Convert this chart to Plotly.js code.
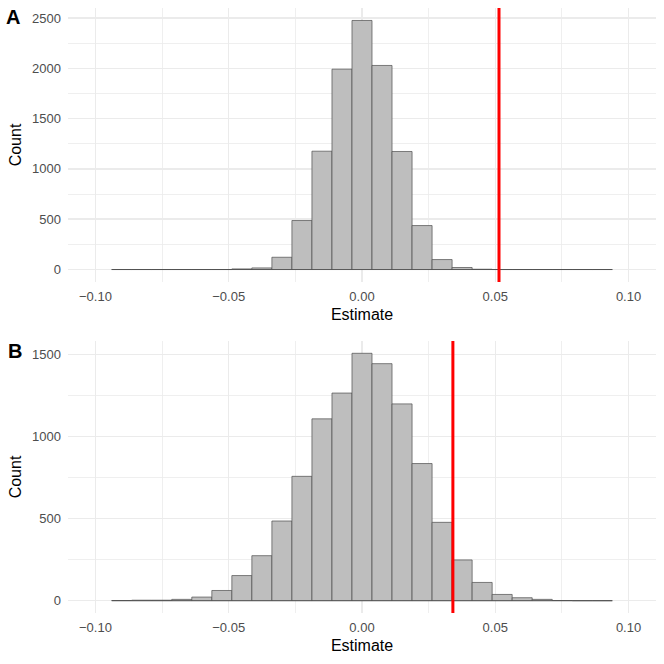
<!DOCTYPE html>
<html>
<head>
<meta charset="utf-8">
<script src="https://cdn.plot.ly/plotly-3.0.1.min.js"></script>
<style>html,body{margin:0;padding:0;background:#fff;}#plot{width:664px;height:664px;}</style>
</head>
<body>
<div id="plot"></div>
<script>
// Bin index (k) relative to the central bin, bin width in Estimate units
const binIndex = [-12,-11,-10,-9,-8,-7,-6,-5,-4,-3,-2,-1,0,1,2,3,4,5,6,7,8,9,10,11,12];
const binWidth = 0.007512;
// Panel A counts
const countsA = [0,0,0,0,0,0,6,16,122,487,1176,1991,2475,2028,1173,437,99,20,3,0,0,0,0,0,0];
// Panel B counts
const countsB = [1,3,3,8,22,62,153,274,485,757,1107,1264,1506,1443,1198,835,477,248,111,38,18,8,1,0,0];
// Observed estimates (red lines)
const observedA = 0.0514;
const observedB = 0.0341;
const xTickVals = [-0.10,-0.05,0.00,0.05,0.10];
const xTickText = ["\u22120.10","\u22120.05","0.00","0.05","0.10"];
const xMinorVals = [-0.075,-0.025,0.025,0.075];
const yTicksA = [0,500,1000,1500,2000,2500];
const yMinorA = [250,750,1250,1750,2250];
const yTicksB = [0,500,1000,1500];
const yMinorB = [250,750,1250];

const centers = binIndex.map(k => k*binWidth);
const firstEdge = centers[0] - binWidth/2;
const lastEdge = centers[centers.length-1] + binWidth/2;

const barStyle = {color:'#bebebe', line:{color:'#4d4d4d', width:0.7}};
const traces = [
  {type:'bar', x:centers, y:countsA, width:binWidth, marker:barStyle, xaxis:'x', yaxis:'y', hoverinfo:'x+y'},
  {type:'scatter', mode:'lines', x:[firstEdge,lastEdge], y:[0,0], line:{color:'#4d4d4d', width:0.7}, xaxis:'x', yaxis:'y'},
  {type:'bar', x:centers, y:countsB, width:binWidth, marker:barStyle, xaxis:'x2', yaxis:'y2', hoverinfo:'x+y'},
  {type:'scatter', mode:'lines', x:[firstEdge,lastEdge], y:[0,0], line:{color:'#4d4d4d', width:0.7}, xaxis:'x2', yaxis:'y2'}
];

const FONT = 'Liberation Sans, Arial, sans-serif';
const grid = '#ebebeb';
function xaxis(anchor){
  return {
    anchor: anchor, domain:[0,1], range:[-0.1103,0.1103],
    tickmode:'array', tickvals:xTickVals, ticktext:xTickText,
    showgrid:true, gridcolor:grid, gridwidth:1.5, zeroline:false, showline:false, ticks:'',
    minor:{tickmode:'array', tickvals:xMinorVals, showgrid:true, gridcolor:grid, gridwidth:0.8, ticks:''},
    tickfont:{family:FONT, size:13, color:'#4d4d4d'},
    ticklabelstandoff:5,
    title:{text:'Estimate', font:{family:FONT, size:16, color:'#000'}, standoff:5}
  };
}
function yaxis(anchor, domain, range, ticks, minor){
  return {
    anchor: anchor, domain:domain, range:range,
    tickmode:'array', tickvals:ticks, ticktext:ticks.map(String),
    showgrid:true, gridcolor:grid, gridwidth:1.5, zeroline:false, showline:false, ticks:'',
    minor:{tickmode:'array', tickvals:minor, showgrid:true, gridcolor:grid, gridwidth:0.8, ticks:''},
    tickfont:{family:FONT, size:13, color:'#4d4d4d'},
    ticklabelstandoff:6,
    title:{text:'Count', font:{family:FONT, size:16, color:'#000'}, standoff:6}
  };
}

const layout = {
  width:664, height:664,
  margin:{l:68, r:8, t:8, b:51},
  paper_bgcolor:'#fff', plot_bgcolor:'#fff',
  showlegend:false, bargap:0,
  font:{family:FONT},
  xaxis: xaxis('y'),
  yaxis: yaxis('x', [0.5471,1], [-124,2599], yTicksA, yMinorA),
  xaxis2: xaxis('y2'),
  yaxis2: yaxis('x2', [0,0.4496], [-75,1581], yTicksB, yMinorB),
  shapes:[
    {type:'line', xref:'x', yref:'y domain', x0:observedA, x1:observedA, y0:0, y1:1, line:{color:'#ff0000', width:3}},
    {type:'line', xref:'x2', yref:'y2 domain', x0:observedB, x1:observedB, y0:0, y1:1, line:{color:'#ff0000', width:3}}
  ],
  annotations:[
    {text:'<b>A</b>', xref:'paper', yref:'paper', x:-0.108, y:1.006, xanchor:'left', yanchor:'top', showarrow:false, font:{family:FONT, size:20, color:'#000'}},
    {text:'<b>B</b>', xref:'paper', yref:'paper', x:-0.105, y:0.455, xanchor:'left', yanchor:'top', showarrow:false, font:{family:FONT, size:20, color:'#000'}}
  ]
};

Plotly.newPlot('plot', traces, layout, {displayModeBar:false, staticPlot:true});
</script>
</body>
</html>
